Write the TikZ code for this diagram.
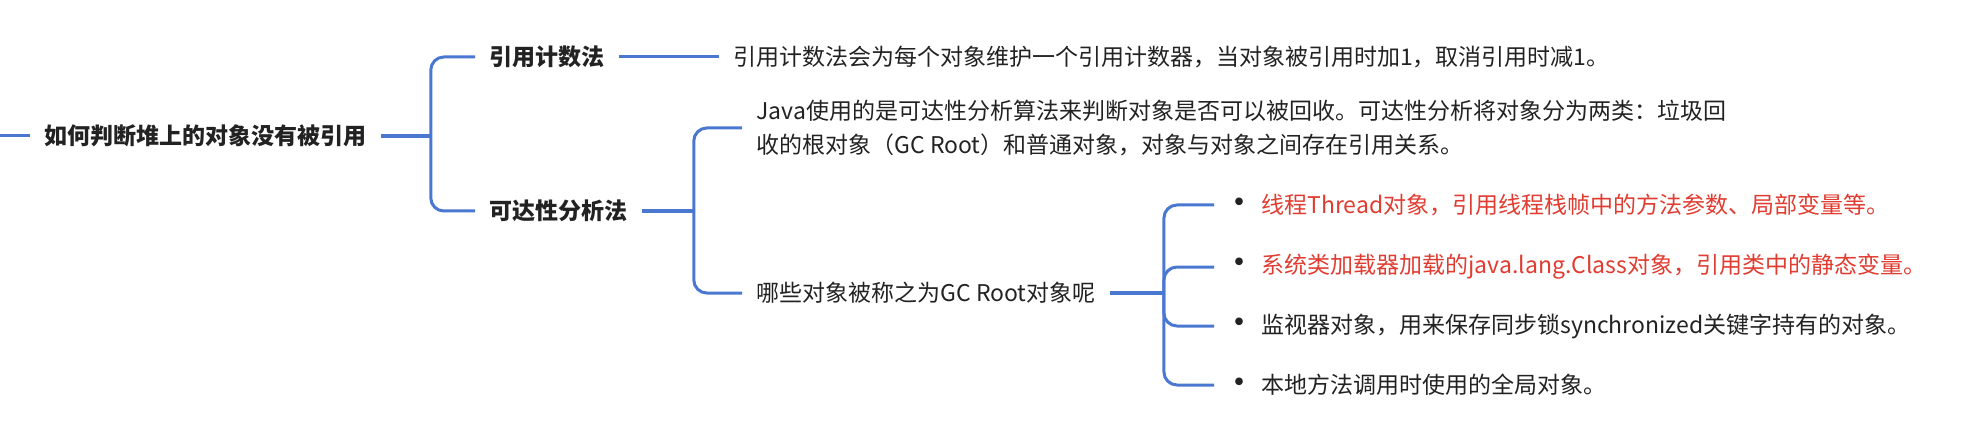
\documentclass[tikz,border=0pt]{standalone}
\usepackage{fontspec}
\setmainfont{Noto Sans CJK SC}
\usepackage{tikz}
\usepackage{xcolor}
\usetikzlibrary{positioning}
\definecolor{mapblue}{RGB}{74,120,208}
\definecolor{mapred}{RGB}{224,60,49}
\definecolor{maptext}{RGB}{34,34,34}
\newcommand{\itembullet}{\makebox[11pt][c]{\color{maptext}\raisebox{-1pt}{\fontsize{18pt}{18pt}\selectfont\textbullet}}\hspace{5.5pt}}

\begin{document}
\begin{tikzpicture}[
topicnode/.style={inner xsep=7pt, inner ysep=0pt, font=\fontsize{11.5pt}{17pt}\selectfont\bfseries, text=maptext, anchor=west},
notenode/.style={inner xsep=7pt, inner ysep=0pt, font=\fontsize{11.5pt}{17pt}\selectfont, text=maptext, anchor=west, align=left},
rednode/.style={notenode, text=mapred},
branch/.style={draw=mapblue, line width=1.5pt, rounded corners=6.5pt},
stem/.style={draw=mapblue, line width=2pt}
]
\useasboundingbox (0,0) rectangle (986pt,-216.5pt);
%Nodes
\coordinate (start) at (0,-68pt);
\node[topicnode] (root) [right=15pt of start] {如何判断堆上的对象没有被引用};
\coordinate[right=25pt of root] (J1);
\node[topicnode] (count) at (237.5pt,-28.5pt) {引用计数法};
\node[notenode] (countnote) [right=50pt of count] {引用计数法会为每个对象维护一个引用计数器，当对象被引用时加1，取消引用时减1。};
\node[topicnode] (reach) at (237.5pt,-105.5pt) {可达性分析法};
\coordinate[right=26pt of reach] (J2);
\node[notenode] (java) at (371pt,-64pt) {Java使用的是可达性分析算法来判断对象是否可以被回收。可达性分析将对象分为两类：垃圾回\\收的根对象（GC Root）和普通对象，对象与对象之间存在引用关系。};
\node[notenode] (gcroot) at (371pt,-146.5pt) {哪些对象被称之为GC Root对象呢};
\coordinate[right=27pt of gcroot] (J3);
\node[rednode] (item1) at (607pt,-102.5pt) {\itembullet 线程Thread对象，引用线程栈帧中的方法参数、局部变量等。};
\node[rednode] (item2) at (607pt,-133.5pt) {\itembullet 系统类加载器加载的java.lang.Class对象，引用类中的静态变量。};
\node[notenode] (item3) at (607pt,-163pt) {\itembullet 监视器对象，用来保存同步锁synchronized关键字持有的对象。};
\node[notenode] (item4) at (607pt,-192.5pt) {\itembullet 本地方法调用时使用的全局对象。};
%Lines
\draw[branch] (start) -- (root.west);
\draw[stem] (root.east) -- (J1);
\draw[branch] (count.west) -| (J1) |- (reach.west);
\draw[branch] (count.east) -- (countnote.west);
\draw[stem] (reach.east) -- (J2);
\draw[branch] (java.west) -| (J2) |- (gcroot.west);
\draw[stem] (gcroot.east) -- (J3);
\draw[branch] (item1.west) -| (J3) |- (item4.west);
\draw[branch] (J3) |- (item2.west);
\draw[branch] (J3) |- (item3.west);
\end{tikzpicture}
\end{document}
